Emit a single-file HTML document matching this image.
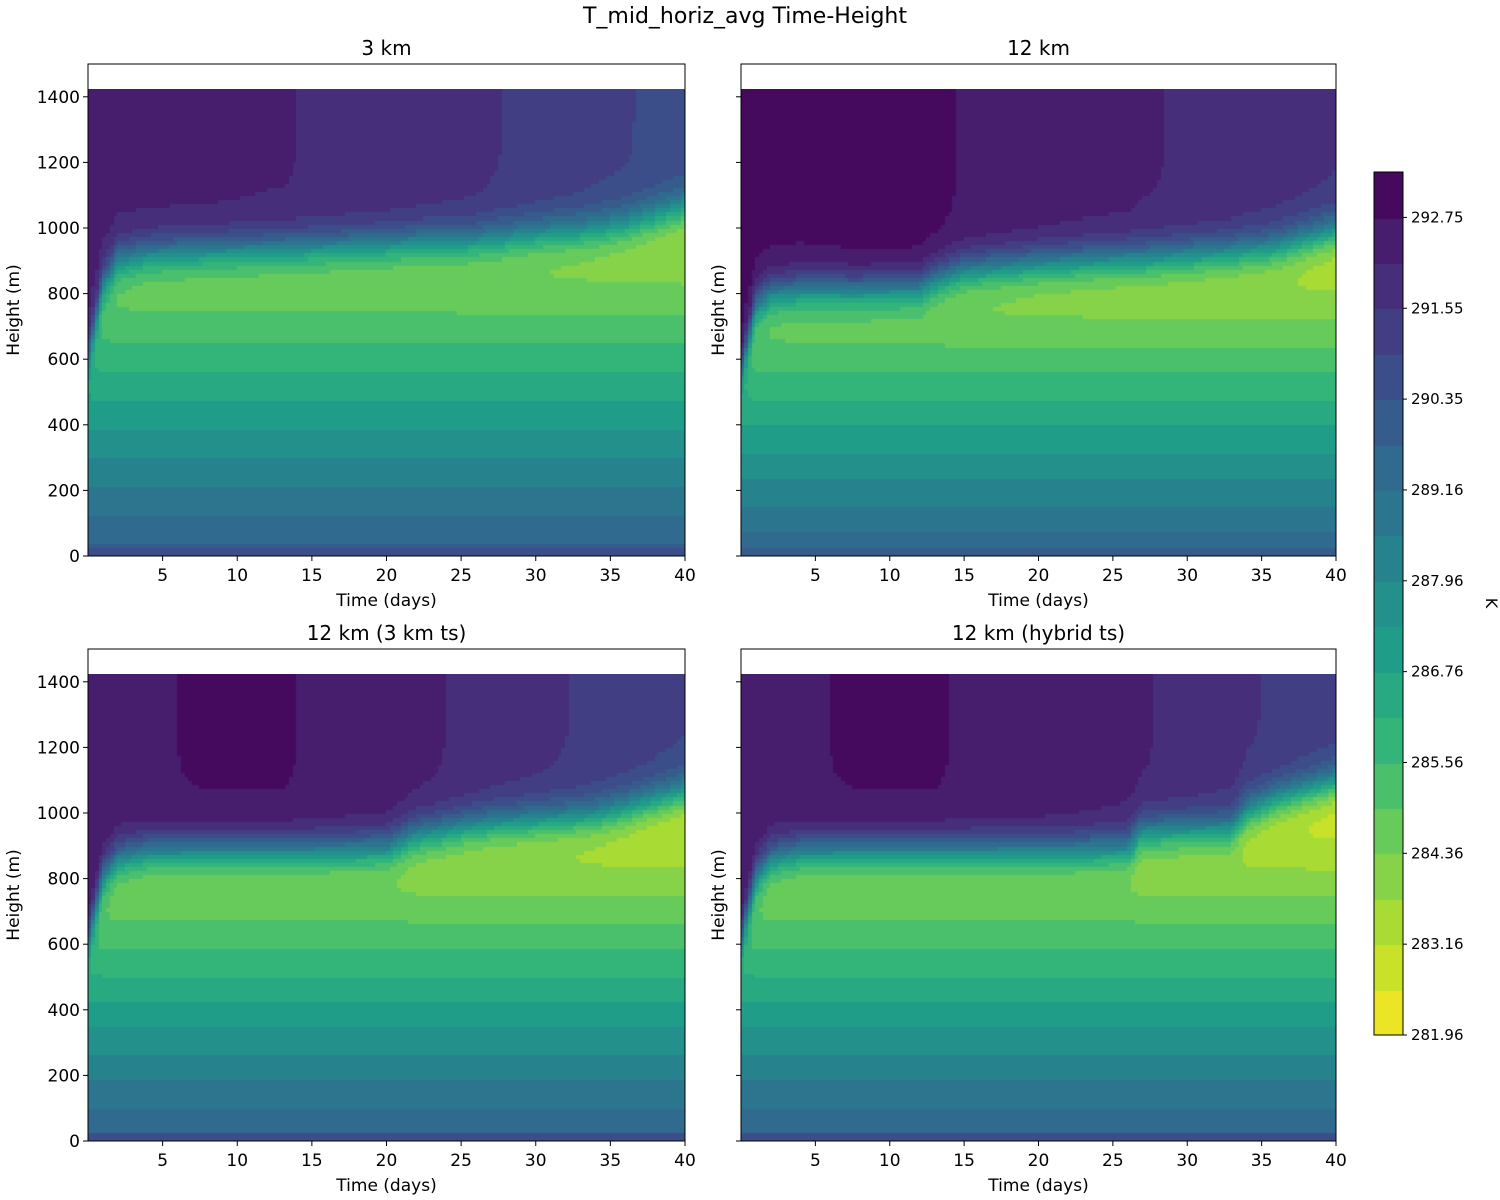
<!DOCTYPE html>
<html><head><meta charset="utf-8"><style>
body{margin:0;background:#fff;width:1500px;height:1200px;position:relative;overflow:hidden;font-family:"DejaVu Sans","Liberation Sans",sans-serif}
canvas{position:absolute}
svg{position:absolute;left:0;top:0;font-family:"DejaVu Sans","Liberation Sans",sans-serif}
</style></head><body>
<canvas id="c0"></canvas>
<canvas id="c1"></canvas>
<canvas id="c2"></canvas>
<canvas id="c3"></canvas>
<canvas id="cb"></canvas>
<svg id="s" width="1500" height="1200"></svg>
<script>
// data
const panelTitles=["3 km","12 km","12 km (3 km ts)","12 km (hybrid ts)"];
const sampleDays=[0,1,2,4,8,12,13,15,20,22,26,27,30,33,34,36,40];
const invHeight3km=[600,820,900,920,930,935,935,940,950,955,960,965,980,990,995,1010,1060];
const invHeight12km=[550,760,800,810,810,815,840,870,890,895,905,905,915,925,930,940,990];
const invHeight12km3ts=[600,800,860,880,885,885,885,885,890,930,960,965,975,985,990,1010,1060];
const invHeight12kmHyb=[600,800,860,880,885,885,885,885,885,885,890,940,945,950,1000,1040,1090];
const aboveT3km=[292.3,292.3,292.3,292.3,292.3,292.2,292.2,292.1,292.0,291.9,291.7,291.6,291.4,291.2,291.1,291.0,290.7];
const aboveT12km=[292.9,292.9,292.9,292.9,293.0,293.0,292.9,292.7,292.5,292.4,292.3,292.2,292.1,292.0,291.9,291.8,291.6];
const aboveT12km3ts=[292.6,292.6,292.6,292.7,292.8,292.8,292.8,292.7,292.5,292.3,292.0,291.9,291.7,291.5,291.4,291.3,291.0];
const aboveT12kmHyb=[292.6,292.6,292.6,292.7,292.8,292.8,292.8,292.7,292.6,292.5,292.3,292.2,292.0,291.8,291.6,291.5,291.2];
const surfT=[290.0,289.7,289.9,289.9];
const lapse=[0.0068,0.0074,0.0074,0.0074];
const xTicks=[5,10,15,20,25,30,35,40];
const yTicks=[0,200,400,600,800,1000,1200,1400];
const cbTickLabels=["281.96","283.16","284.36","285.56","286.76","287.96","289.16","290.35","291.55","292.75"];

const invs=[invHeight3km,invHeight12km,invHeight12km3ts,invHeight12kmHyb];
const aboves=[aboveT3km,aboveT12km,aboveT12km3ts,aboveT12kmHyb];
const vir=[[68,1,84],[72,40,120],[62,74,137],[49,104,142],[38,130,142],[31,158,137],[53,183,121],[110,206,88],[181,222,43],[253,231,37]];
function viridis(f){f=Math.max(0,Math.min(1,f));const p=f*(vir.length-1),i=Math.min(vir.length-2,Math.floor(p)),r=p-i;
 return vir[i].map((v,k)=>Math.round(v+(vir[i+1][k]-v)*r));}
const T0=281.96,dT=(292.75-281.96)/18,NB=19;
function bandColor(b){const c=viridis(1-(b+0.5)/NB);return `rgb(${c[0]},${c[1]},${c[2]})`;}
function tempColor(T){let b=Math.floor((T-T0)/dT);b=Math.max(0,Math.min(NB-1,b));return bandColor(b);}
function lerp(arr,d){for(let i=0;i<sampleDays.length-1;i++){if(d<=sampleDays[i+1]){const r=(d-sampleDays[i])/(sampleDays[i+1]-sampleDays[i]);return arr[i]+(arr[i+1]-arr[i])*r;}}return arr[arr.length-1];}

const boxes=[[88,64,597,492],[741,64,595,492],[88,649,597,492],[741,649,595,492]];
const NS='http://www.w3.org/2000/svg';const svg=document.getElementById('s');
function el(tag,attrs,txt){const e=document.createElementNS(NS,tag);for(const k in attrs)e.setAttribute(k,attrs[k]);if(txt!==undefined)e.textContent=txt;svg.appendChild(e);return e;}

boxes.forEach((bx,p)=>{
 const [L,T,W,H]=bx;const xs=d=>L+d/40*W, ys=z=>T+H-z/1500*H;
 const cv=document.getElementById('c'+p);const top=ys(1425);
 cv.width=W;cv.height=Math.round(T+H-top);cv.style.left=L+'px';cv.style.top=top+'px';
 const ctx=cv.getContext('2d');
 const nx=160,nz=114;
 for(let i=0;i<nx;i++){const d=(i+0.5)/nx*40;const h=lerp(invs[p],d),ta=lerp(aboves[p],d);
  for(let j=0;j<nz;j++){const z=(j+0.5)/nz*1425;
   const tm=surfT[p]-lapse[p]*z;
   const s=1/(1+Math.exp(-(z-h)/35));
   let t=tm*(1-s)+ta*s; if(z<25)t+=0.6;
   ctx.fillStyle=tempColor(t);
   const x0=Math.floor(i/nx*W),x1=Math.ceil((i+1)/nx*W);
   const y0=Math.floor(cv.height-(j+1)/nz*cv.height),y1=Math.ceil(cv.height-j/nz*cv.height);
   ctx.fillRect(x0,y0,x1-x0,y1-y0);}}
 el('rect',{x:L,y:T,width:W,height:H,fill:'none',stroke:'#000','stroke-width':1,});
 el('text',{x:L+W/2,y:T-9,'font-size':20,'text-anchor':'middle',},panelTitles[p]);
 xTicks.forEach(v=>{const x=xs(v);el('line',{x1:x,x2:x,y1:T+H,y2:T+H+5,stroke:'#000'});
  el('text',{x:x,y:T+H+25,'font-size':17,'text-anchor':'middle',},v);});
 yTicks.forEach(v=>{const y=ys(v);el('line',{x1:L-5,x2:L,y1:y,y2:y,stroke:'#000'});
  if(p%2==0)el('text',{x:L-8,y:y+6,'font-size':17,'text-anchor':'end',},v);});
 el('text',{x:L+W/2,y:T+H+50,'font-size':17,'text-anchor':'middle',},'Time (days)');
 const yl=p%2==0?19:724;
 el('text',{x:yl,y:T+H/2,'font-size':17,'text-anchor':'middle',transform:`rotate(-90 ${yl} ${T+H/2})`,},'Height (m)');
});
el('text',{x:745,y:23,'font-size':22,'text-anchor':'middle',},'T_mid_horiz_avg Time-Height');
// colorbar
const cbL=1374,cbT=172,cbW=29,cbH=863;const cb=document.getElementById('cb');
cb.width=cbW;cb.height=cbH;cb.style.left=cbL+'px';cb.style.top=cbT+'px';const cx=cb.getContext('2d');
for(let b=0;b<NB;b++){cx.fillStyle=bandColor(b);const y0=cbH-(b+1)/NB*cbH;cx.fillRect(0,Math.floor(y0),cbW,Math.ceil(cbH/NB)+1);}
el('rect',{x:cbL,y:cbT,width:cbW,height:cbH,fill:'none',stroke:'#000',});
cbTickLabels.forEach((lab,k)=>{const y=cbT+cbH-(2*k)/NB*cbH;
 el('line',{x1:cbL+cbW,x2:cbL+cbW+4,y1:y,y2:y,stroke:'#000'});
 el('text',{x:cbL+cbW+8,y:y+5,'font-size':15,},lab);});
el('text',{x:1486,y:603,'font-size':16,'text-anchor':'middle',transform:'rotate(90 1486 603)',},'K');
</script>
</body></html>
